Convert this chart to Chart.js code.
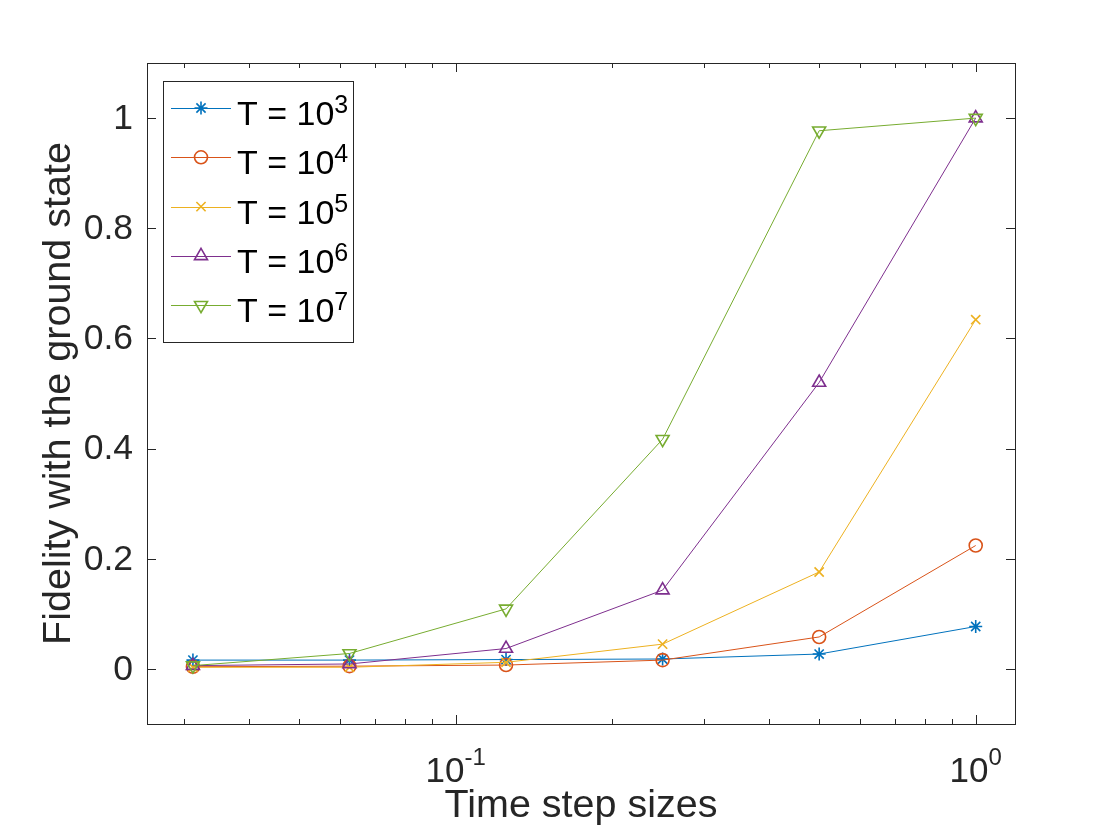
<!DOCTYPE html>
<html lang="en">
<head>
    <meta charset="UTF-8">
    <title>Fidelity vs time step</title>
    <style>
        body {
            margin: 0;
            background-color: #ffffff;
        }
        #wrap {
            width: 1120px;
            height: 840px;
        }
    </style>
    <script src="https://cdn.jsdelivr.net/npm/chart.js"></script>
</head>
<body>
    <div id="wrap"><canvas id="chart" width="1120" height="840"></canvas></div>
    <script>
        // time step sizes (x axis, log scale)
        const xSteps = [1/32, 1/16, 1/8, 1/4, 1/2, 1];

        // fidelity with the ground state, one array per T
        const fidT3 = [0.016, 0.016, 0.017, 0.018, 0.027, 0.077];
        const fidT4 = [0.004, 0.005, 0.007, 0.016, 0.058, 0.224];
        const fidT5 = [0.003, 0.003, 0.012, 0.045, 0.176, 0.634];
        const fidT6 = [0.006, 0.009, 0.037, 0.143, 0.520, 1.000];
        const fidT7 = [0.006, 0.028, 0.109, 0.417, 0.977, 1.000];

        const tExponents = ['3', '4', '5', '6', '7'];

        const yTickValues = [0, 0.2, 0.4, 0.6, 0.8, 1];
        const yTickLabels = ['0', '0.2', '0.4', '0.6', '0.8', '1'];
        const xMajorTicks = [0.1, 1];
        const xMajorExp = ['-1', '0'];
        const xMinorTicks = [0.03, 0.04, 0.05, 0.06, 0.07, 0.08, 0.09,
                             0.2, 0.3, 0.4, 0.5, 0.6, 0.7, 0.8, 0.9];

        const colors = ['#0072BD', '#D95319', '#EDB120', '#7E2F8E', '#77AC30'];
        const markers = ['star', 'circle', 'crossRot', 'triangle', 'triangle'];
        const rotations = [0, 0, 0, 0, 180];

        const FONT = '"Liberation Sans", Arial, Helvetica, sans-serif';
        const INK = '#262626';

        const allSeries = [fidT3, fidT4, fidT5, fidT6, fidT7];

        const datasets = allSeries.map((vals, i) => ({
            label: 'T = 10^' + tExponents[i],
            data: xSteps.map((x, j) => ({ x: x, y: vals[j] })),
            borderColor: colors[i],
            borderWidth: 1,
            pointStyle: markers[i],
            pointRotation: rotations[i],
            pointRadius: markers[i] === 'triangle' ? 7.5 : 6.5,
            pointBorderWidth: 1.6,
            pointBackgroundColor: 'rgba(0,0,0,0)',
            pointBorderColor: colors[i],
            tension: 0,
            fill: false,
            order: 5 - i
        }));

        function supText(ctx, base, sup, x, y, baseSize, supSize, rise, align) {
            ctx.font = baseSize + 'px ' + FONT;
            const wb = ctx.measureText(base).width;
            ctx.font = supSize + 'px ' + FONT;
            const ws = ctx.measureText(sup).width;
            let x0 = x;
            if (align === 'center') x0 = x - (wb + ws) / 2;
            ctx.textAlign = 'left';
            ctx.textBaseline = 'alphabetic';
            ctx.font = baseSize + 'px ' + FONT;
            ctx.fillText(base, x0, y);
            ctx.font = supSize + 'px ' + FONT;
            ctx.fillText(sup, x0 + wb, y - rise);
        }

        const axesPlugin = {
            id: 'matlabAxes',
            afterDraw(chart) {
                const ctx = chart.ctx;
                const a = chart.chartArea;
                const xs = chart.scales.x;
                const ys = chart.scales.y;
                ctx.save();

                // box
                ctx.strokeStyle = INK;
                ctx.lineWidth = 1;
                ctx.strokeRect(Math.round(a.left) + 0.5, Math.round(a.top) + 0.5,
                    Math.round(a.right - a.left), Math.round(a.bottom - a.top));

                // ticks (inward, mirrored on both sides)
                ctx.beginPath();
                yTickValues.forEach(v => {
                    const py = Math.round(ys.getPixelForValue(v)) + 0.5;
                    ctx.moveTo(a.left, py); ctx.lineTo(a.left + 9, py);
                    ctx.moveTo(a.right, py); ctx.lineTo(a.right - 9, py);
                });
                xMajorTicks.forEach(v => {
                    const px = Math.round(xs.getPixelForValue(v)) + 0.5;
                    ctx.moveTo(px, a.bottom); ctx.lineTo(px, a.bottom - 9);
                    ctx.moveTo(px, a.top); ctx.lineTo(px, a.top + 9);
                });
                xMinorTicks.forEach(v => {
                    const px = Math.round(xs.getPixelForValue(v)) + 0.5;
                    ctx.moveTo(px, a.bottom); ctx.lineTo(px, a.bottom - 5);
                    ctx.moveTo(px, a.top); ctx.lineTo(px, a.top + 5);
                });
                ctx.stroke();

                // y tick labels
                ctx.fillStyle = INK;
                ctx.font = '35.5px ' + FONT;
                ctx.textAlign = 'right';
                ctx.textBaseline = 'middle';
                yTickValues.forEach((v, i) => {
                    ctx.fillText(yTickLabels[i], a.left - 14, ys.getPixelForValue(v) + 1);
                });

                // x tick labels 10^n
                xMajorTicks.forEach((v, i) => {
                    supText(ctx, '10', xMajorExp[i], xs.getPixelForValue(v), 782, 35, 24, 17, 'center');
                });

                // axis titles
                ctx.font = '39.5px ' + FONT;
                ctx.textAlign = 'center';
                ctx.textBaseline = 'alphabetic';
                ctx.fillText('Time step sizes', (a.left + a.right) / 2, 817);
                ctx.save();
                ctx.translate(70, (a.top + a.bottom) / 2);
                ctx.rotate(-Math.PI / 2);
                ctx.fillText('Fidelity with the ground state', 0, 0);
                ctx.restore();

                // legend
                const lx = 163, ly = 81, lw = 190, lh = 261;
                ctx.fillStyle = '#ffffff';
                ctx.fillRect(lx, ly, lw, lh);
                ctx.strokeStyle = INK;
                ctx.lineWidth = 1;
                ctx.strokeRect(lx + 0.5, ly + 0.5, lw, lh);
                chart.data.datasets.forEach((ds, i) => {
                    const cy = 108 + i * 49.3;
                    ctx.strokeStyle = ds.borderColor;
                    ctx.lineWidth = 1;
                    ctx.beginPath();
                    ctx.moveTo(171, Math.round(cy) + 0.5);
                    ctx.lineTo(231, Math.round(cy) + 0.5);
                    ctx.stroke();
                    ctx.fillStyle = 'rgba(0,0,0,0)';
                    ctx.strokeStyle = ds.borderColor;
                    ctx.lineWidth = ds.pointBorderWidth;
                    Chart.helpers.drawPoint(ctx, {
                        pointStyle: ds.pointStyle,
                        rotation: ds.pointRotation,
                        radius: ds.pointRadius,
                        borderWidth: ds.pointBorderWidth
                    }, 201, cy);
                    ctx.fillStyle = '#000000';
                    supText(ctx, 'T = 10', tExponents[i], 237, cy + 17, 34, 25, 12, 'left');
                });

                ctx.restore();
            }
        };

        new Chart(document.getElementById('chart'), {
            type: 'line',
            data: { datasets: datasets },
            options: {
                responsive: false,
                devicePixelRatio: 1,
                animation: false,
                layout: {
                    padding: { left: 147, top: 63, right: 105, bottom: 116 }
                },
                plugins: {
                    legend: { display: false },
                    tooltip: { enabled: false }
                },
                scales: {
                    x: { type: 'logarithmic', min: 0.0255, max: 1.19, display: false },
                    y: { type: 'linear', min: -0.1, max: 1.1, display: false }
                }
            },
            plugins: [axesPlugin]
        });
    </script>
</body>
</html>
